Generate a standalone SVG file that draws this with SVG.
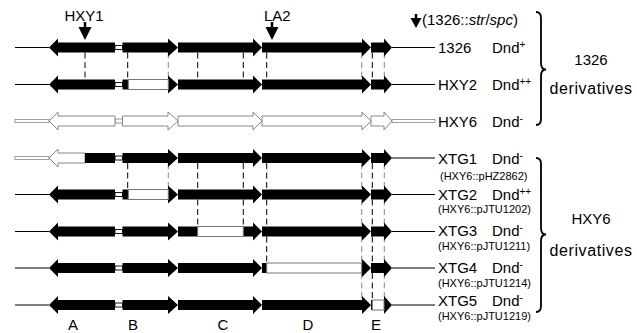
<svg xmlns="http://www.w3.org/2000/svg" width="637" height="333" viewBox="0 0 637 333">
<style>
text{font-family:"Liberation Sans",Arial,sans-serif;fill:#000}
.lbl{font-size:15px}
.der{font-size:16px;letter-spacing:0.6px}
.sub{font-size:11px}
.sup{font-size:10px}
.blk{fill:#000}
.hol{fill:#fff;stroke:#888;stroke-width:1}
.del{fill:#fff;stroke:#777;stroke-width:1}
.lnk{fill:#fff;stroke:#000;stroke-width:0.9}
.lnkg{fill:#fff;stroke:#888;stroke-width:0.9}
.ln{stroke:#000;stroke-width:1.2;fill:none}
.dl{fill:#fff;stroke:#888;stroke-width:0.8}
.dash{stroke:#000;stroke-width:1;stroke-dasharray:6 3.5;fill:none}
.dashg{stroke:#888;stroke-width:1;stroke-dasharray:6 3.5;fill:none}
.brace{fill:none;stroke:#000;stroke-width:1.8}
</style>
<defs>
<polygon id="gA" points="49,0 58,-9 58,-5 115,-5 115,5 58,5 58,9"/>
<polygon id="gB" points="122.5,-5 168,-5 168,-9 178,0 168,9 168,5 122.5,5"/>
<polygon id="gC" points="178,-5 253,-5 253,-9 262,0 253,9 253,5 178,5"/>
<polygon id="gD" points="262,-5 362,-5 362,-9 371,0 362,9 362,5 262,5"/>
<polygon id="gE" points="371,-5 384,-5 384,-9 392,0 384,9 384,5 371,5"/>
<g id="std">
<line class="ln" x1="15" y1="0" x2="49" y2="0"/>
<line class="ln" x1="392" y1="0" x2="435" y2="0"/>
<rect class="lnk" x="115" y="-2" width="7.5" height="4"/>
</g>
</defs>

<g id="connectors">
<g transform="translate(0,52.5)">
<line class="dash" x1="85" y1="0" x2="85" y2="27"/>
<line class="dash" x1="127.7" y1="0" x2="127.7" y2="27"/>
<line class="dashg" x1="168.3" y1="0" x2="168.3" y2="27"/>
<line class="dash" x1="197.7" y1="0" x2="197.7" y2="27"/>
<line class="dash" x1="243.3" y1="0" x2="243.3" y2="27"/>
<line class="dash" x1="266.7" y1="0" x2="266.7" y2="27"/>
<line class="dashg" x1="361.7" y1="0" x2="361.7" y2="27"/>
<line class="dash" x1="372.3" y1="0" x2="372.3" y2="27"/>
<line class="dashg" x1="384.3" y1="0" x2="384.3" y2="27"/>
</g>
<g transform="translate(0,163)">
<line class="dash" x1="127.7" y1="0" x2="127.7" y2="26.5"/>
<line class="dashg" x1="168.3" y1="0" x2="168.3" y2="26.5"/>
<line class="dash" x1="197.7" y1="0" x2="197.7" y2="26.5"/>
<line class="dash" x1="243.3" y1="0" x2="243.3" y2="26.5"/>
<line class="dash" x1="266.7" y1="0" x2="266.7" y2="26.5"/>
<line class="dashg" x1="361.7" y1="0" x2="361.7" y2="26.5"/>
<line class="dash" x1="372.3" y1="0" x2="372.3" y2="26.5"/>
<line class="dashg" x1="384.3" y1="0" x2="384.3" y2="26.5"/>
</g>
<g transform="translate(0,199.5)">
<line class="dash" x1="197.7" y1="0" x2="197.7" y2="27"/>
<line class="dash" x1="243.3" y1="0" x2="243.3" y2="27"/>
<line class="dash" x1="266.7" y1="0" x2="266.7" y2="27"/>
<line class="dashg" x1="361.7" y1="0" x2="361.7" y2="27"/>
<line class="dash" x1="372.3" y1="0" x2="372.3" y2="27"/>
<line class="dashg" x1="384.3" y1="0" x2="384.3" y2="27"/>
</g>
<g transform="translate(0,236.5)">
<line class="dash" x1="266.7" y1="0" x2="266.7" y2="26.5"/>
<line class="dashg" x1="361.7" y1="0" x2="361.7" y2="26.5"/>
<line class="dash" x1="372.3" y1="0" x2="372.3" y2="26.5"/>
<line class="dashg" x1="384.3" y1="0" x2="384.3" y2="26.5"/>
</g>
<g transform="translate(0,273)">
<line class="dashg" x1="361.7" y1="0" x2="361.7" y2="27"/>
<line class="dash" x1="372.3" y1="0" x2="372.3" y2="27"/>
<line class="dashg" x1="384.3" y1="0" x2="384.3" y2="27"/>
</g>
</g>

<g id="markers">
<line x1="85" y1="22" x2="85" y2="28" stroke="#000" stroke-width="2.5"/>
<polygon class="blk" points="78.5,27 91.5,27 85,40"/>
<text class="lbl" x="84" y="21" text-anchor="middle">HXY1</text>
<line x1="272" y1="22" x2="272" y2="28" stroke="#000" stroke-width="2.5"/>
<polygon class="blk" points="265.5,27 278.5,27 272,40"/>
<text class="lbl" x="264" y="21">LA2</text>
<line x1="416" y1="14" x2="416" y2="19" stroke="#000" stroke-width="2.5"/>
<polygon class="blk" points="410.5,18 421.5,18 416,28"/>
<text class="lbl" x="422" y="25">(1326::<tspan font-style="italic">str</tspan>/<tspan font-style="italic">spc</tspan>)</text>
</g>

<g id="row-1326" transform="translate(0,47.5)">
<use href="#std"/>
<use href="#gA" class="blk"/><use href="#gB" class="blk"/><use href="#gC" class="blk"/><use href="#gD" class="blk"/><use href="#gE" class="blk"/>
</g>
<g id="row-HXY2" transform="translate(0,84.5)">
<use href="#std"/>
<use href="#gA" class="blk"/><use href="#gB" class="blk"/><use href="#gC" class="blk"/><use href="#gD" class="blk"/><use href="#gE" class="blk"/>
<rect class="del" x="128.3" y="-5" width="40" height="10"/>
</g>
<g id="row-HXY6" transform="translate(0,121)">
<rect class="dl" x="15" y="-1.5" width="34" height="3"/>
<rect class="dl" x="392" y="-1.5" width="43" height="3"/>
<rect class="lnkg" x="115" y="-2" width="7.5" height="4"/>
<use href="#gA" class="hol"/><use href="#gB" class="hol"/><use href="#gC" class="hol"/><use href="#gD" class="hol"/><use href="#gE" class="hol"/>
</g>
<g id="row-XTG1" transform="translate(0,158)">
<rect class="dl" x="15" y="-1.5" width="34" height="3"/>
<line class="ln" x1="392" y1="0" x2="435" y2="0"/>
<rect class="lnk" x="115" y="-2" width="7.5" height="4"/>
<polygon class="hol" points="49,0 58,-9 58,-5 85,-5 85,5 58,5 58,9"/>
<rect class="blk" x="85" y="-5" width="30" height="10"/>
<use href="#gB" class="blk"/><use href="#gC" class="blk"/><use href="#gD" class="blk"/><use href="#gE" class="blk"/>
</g>
<g id="row-XTG2" transform="translate(0,194.5)">
<use href="#std"/>
<use href="#gA" class="blk"/><use href="#gB" class="blk"/><use href="#gC" class="blk"/><use href="#gD" class="blk"/><use href="#gE" class="blk"/>
<rect class="del" x="128.3" y="-5" width="40" height="10"/>
</g>
<g id="row-XTG3" transform="translate(0,231.5)">
<use href="#std"/>
<use href="#gA" class="blk"/><use href="#gB" class="blk"/><use href="#gC" class="blk"/><use href="#gD" class="blk"/><use href="#gE" class="blk"/>
<rect class="del" x="197.7" y="-5" width="45.6" height="10"/>
</g>
<g id="row-XTG4" transform="translate(0,268)">
<use href="#std"/>
<use href="#gA" class="blk"/><use href="#gB" class="blk"/><use href="#gC" class="blk"/><use href="#gD" class="blk"/><use href="#gE" class="blk"/>
<rect class="del" x="266.7" y="-5" width="95" height="10"/>
</g>
<g id="row-XTG5" transform="translate(0,305)">
<use href="#std"/>
<use href="#gA" class="blk"/><use href="#gB" class="blk"/><use href="#gC" class="blk"/><use href="#gD" class="blk"/><use href="#gE" class="blk"/>
<rect class="del" x="372.3" y="-5" width="11.7" height="10"/>
</g>

<g id="labels">
<text class="lbl" x="438" y="53">1326</text>
<text class="lbl" x="492" y="53">Dnd<tspan class="sup" dy="-5">+</tspan></text>
<text class="lbl" x="438" y="90">HXY2</text>
<text class="lbl" x="492" y="90">Dnd<tspan class="sup" dy="-5">++</tspan></text>
<text class="lbl" x="438" y="126.5">HXY6</text>
<text class="lbl" x="492" y="126.5">Dnd<tspan class="sup" dy="-5">-</tspan></text>
<text class="lbl" x="438" y="164">XTG1</text>
<text class="lbl" x="492" y="164">Dnd<tspan class="sup" dy="-5">-</tspan></text>
<text class="sub" x="440" y="179.5">(HXY6::pHZ2862)</text>
<text class="lbl" x="438" y="199.5">XTG2</text>
<text class="lbl" x="492" y="199.5">Dnd<tspan class="sup" dy="-5">++</tspan></text>
<text class="sub" x="438" y="213">(HXY6::pJTU1202)</text>
<text class="lbl" x="438" y="236">XTG3</text>
<text class="lbl" x="492" y="236">Dnd<tspan class="sup" dy="-5">-</tspan></text>
<text class="sub" x="438" y="249.5">(HXY6::pJTU1211)</text>
<text class="lbl" x="438" y="273">XTG4</text>
<text class="lbl" x="492" y="273">Dnd<tspan class="sup" dy="-5">-</tspan></text>
<text class="sub" x="438" y="286.5">(HXY6::pJTU1214)</text>
<text class="lbl" x="438" y="306">XTG5</text>
<text class="lbl" x="492" y="306">Dnd<tspan class="sup" dy="-5">-</tspan></text>
<text class="sub" x="438" y="319.5">(HXY6::pJTU1219)</text>
</g>

<g id="brace-1326">
<path class="brace" d="M536,12 Q541,12 541,18 L541,63 Q541,69.5 546,69.5 Q541,69.5 541,76 L541,119 Q541,125 536,125"/>
<text class="lbl" x="591" y="65" text-anchor="middle">1326</text>
<text class="der" x="591" y="94" text-anchor="middle">derivatives</text>
</g>
<g id="brace-HXY6">
<path class="brace" d="M536,158 Q541,158 541,164 L541,228 Q541,234.5 546,234.5 Q541,234.5 541,241 L541,306 Q541,312 536,312"/>
<text class="lbl" x="591" y="224" text-anchor="middle">HXY6</text>
<text class="der" x="591" y="256" text-anchor="middle">derivatives</text>
</g>

<g id="gene-names">
<text class="lbl" x="73" y="330" text-anchor="middle">A</text>
<text class="lbl" x="133" y="330" text-anchor="middle">B</text>
<text class="lbl" x="223" y="330" text-anchor="middle">C</text>
<text class="lbl" x="308" y="330" text-anchor="middle">D</text>
<text class="lbl" x="376" y="330" text-anchor="middle">E</text>
</g>
</svg>
